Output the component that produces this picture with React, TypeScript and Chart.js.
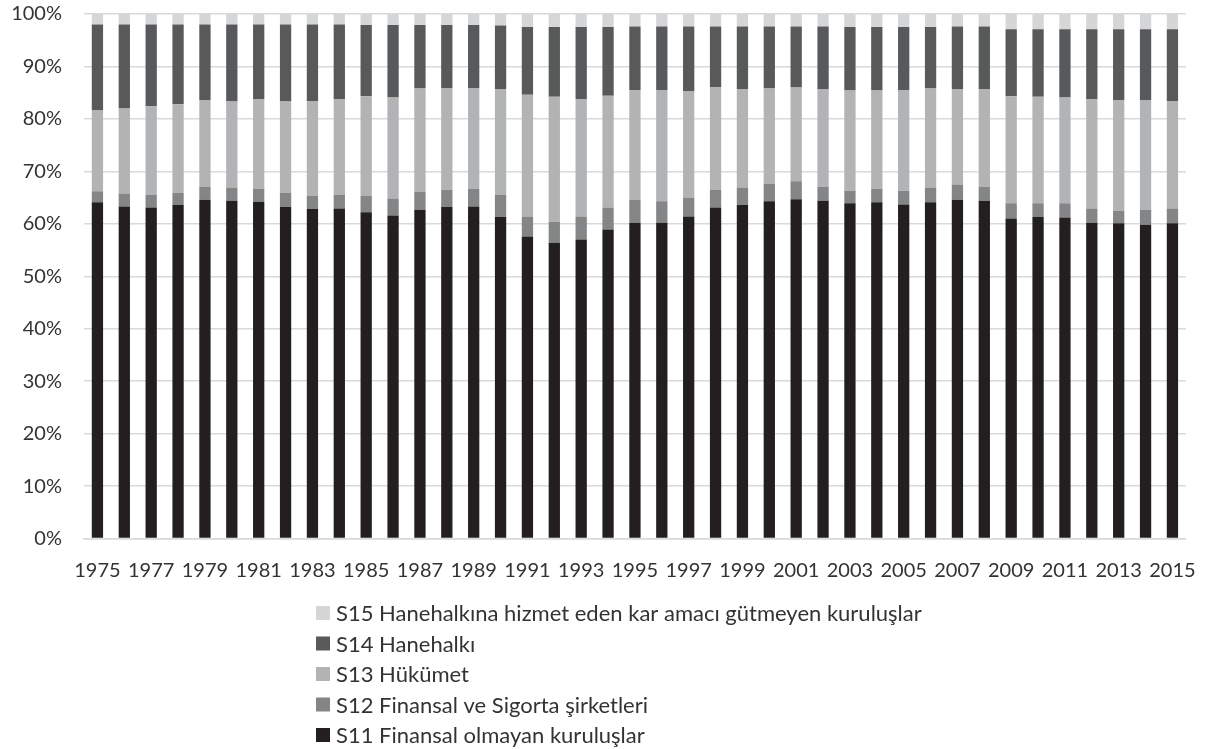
import React, { useEffect, useRef } from 'react';
import { Chart, registerables } from 'chart.js';

Chart.register(...registerables);

const years = [
  '1975', '1976', '1977', '1978', '1979', '1980', '1981', '1982', '1983', '1984',
  '1985', '1986', '1987', '1988', '1989', '1990', '1991', '1992', '1993', '1994',
  '1995', '1996', '1997', '1998', '1999', '2000', '2001', '2002', '2003', '2004',
  '2005', '2006', '2007', '2008', '2009', '2010', '2011', '2012', '2013', '2014', '2015',
];

// S11 Finansal olmayan kuruluşlar
const s11 = [
  64.1, 63.3, 63.1, 63.6, 64.6, 64.4, 64.2, 63.2, 62.8, 62.9,
  62.2, 61.6, 62.7, 63.2, 63.3, 61.3, 57.6, 56.4, 57.0, 58.9,
  60.2, 60.2, 61.4, 63.1, 63.6, 64.3, 64.7, 64.4, 63.9, 64.1,
  63.7, 64.1, 64.6, 64.4, 61.0, 61.3, 61.2, 60.2, 60.1, 59.8, 60.1,
];
// S12 Finansal ve Sigorta şirketleri
const s12 = [
  2.1, 2.5, 2.4, 2.3, 2.4, 2.5, 2.5, 2.7, 2.5, 2.6,
  3.1, 3.2, 3.4, 3.3, 3.4, 4.2, 3.8, 4.0, 4.4, 4.2,
  4.4, 4.1, 3.6, 3.4, 3.3, 3.3, 3.4, 2.6, 2.4, 2.6,
  2.6, 2.8, 2.9, 2.6, 2.9, 2.6, 2.7, 2.7, 2.4, 2.9, 2.8,
];
// S13 Hükümet
const s13 = [
  15.4, 16.2, 16.9, 16.9, 16.6, 16.4, 17.1, 17.4, 18.1, 18.3,
  19.0, 19.3, 19.7, 19.4, 19.2, 20.2, 23.2, 23.8, 22.4, 21.3,
  20.9, 21.2, 20.3, 19.6, 18.8, 18.2, 17.9, 18.7, 19.1, 18.7,
  19.2, 18.9, 18.2, 18.7, 20.4, 20.3, 20.2, 20.9, 21.1, 20.9, 20.5,
];
// S14 Hanehalkı
const s14 = [
  16.4, 16.0, 15.6, 15.2, 14.4, 14.7, 14.2, 14.7, 14.6, 14.2,
  13.6, 13.8, 12.1, 12.0, 12.0, 12.1, 12.9, 13.3, 13.7, 13.1,
  12.1, 12.1, 12.3, 11.5, 11.9, 11.8, 11.6, 11.9, 12.1, 12.1,
  12.0, 11.7, 11.9, 11.9, 12.8, 12.9, 13.0, 13.3, 13.5, 13.5, 13.7,
];
// S15 Hanehalkına hizmet eden kar amacı gütmeyen kuruluşlar
const s15 = [
  2.0, 2.0, 2.0, 2.0, 2.0, 2.0, 2.0, 2.0, 2.0, 2.0,
  2.1, 2.1, 2.1, 2.1, 2.1, 2.2, 2.5, 2.5, 2.5, 2.5,
  2.4, 2.4, 2.4, 2.4, 2.4, 2.4, 2.4, 2.4, 2.5, 2.5,
  2.5, 2.5, 2.4, 2.4, 2.9, 2.9, 2.9, 2.9, 2.9, 2.9, 2.9,
];

const seriesLabels = [
  'S11 Finansal olmayan kuruluşlar',
  'S12 Finansal ve Sigorta şirketleri',
  'S13 Hükümet',
  'S14 Hanehalkı',
  'S15 Hanehalkına hizmet eden kar amacı gütmeyen kuruluşlar',
];
const seriesColors = ['#231f20', '#848587', '#b2b3b5', '#58595b', '#d5d6d8'];

const FONT = 'Lato, "Open Sans", sans-serif';
const TEXT = '#333333';

const legendPlugin = {
  id: 'verticalLegend',
  afterDraw(chart: any) {
    const ctx = chart.ctx;
    const items = chart.data.datasets.slice().reverse();
    ctx.save();
    ctx.font = `22px ${FONT}`;
    ctx.textBaseline = 'middle';
    ctx.textAlign = 'left';
    const x0 = 316;
    const y0 = chart.chartArea.bottom + 74.5;
    const step = 30.5;
    items.forEach((ds: any, i: number) => {
      const y = y0 + i * step;
      ctx.fillStyle = ds.backgroundColor;
      ctx.fillRect(x0, y - 7, 14, 14);
      ctx.fillStyle = TEXT;
      ctx.fillText(ds.label, x0 + 20, y + 1);
    });
    ctx.restore();
  },
};

export default function App() {
  const ref = useRef<HTMLCanvasElement | null>(null);

  useEffect(() => {
    if (!ref.current) return;
    const data = [s11, s12, s13, s14, s15];
    const chart = new Chart(ref.current, {
      type: 'bar',
      data: {
        labels: years,
        datasets: data.map((d, i) => ({
          label: seriesLabels[i],
          data: d,
          backgroundColor: seriesColors[i],
          borderWidth: 0,
          barPercentage: 0.42,
          categoryPercentage: 1,
        })),
      },
      options: {
        animation: false,
        responsive: true,
        maintainAspectRatio: false,
        layout: { padding: { top: 34, right: 30, left: 0, bottom: 170.5 } },
        plugins: {
          legend: { display: false },
          tooltip: { enabled: false },
          title: { display: false },
        },
        scales: {
          x: {
            stacked: true,
            grid: { display: false, drawTicks: false },
            border: { display: true, color: '#d9d9d9', width: 1.5 },
            ticks: {
              autoSkip: false,
              maxRotation: 0,
              minRotation: 0,
              padding: 20,
              color: TEXT,
              font: { family: FONT, size: 20 },
              callback: (v: any, i: number) => (i % 2 === 0 ? years[i] : ''),
            },
            afterFit: (s: any) => {
              s.height = 40;
            },
          },
          y: {
            stacked: true,
            min: 0,
            max: 100,
            grid: { color: '#d9d9d9', lineWidth: 1.5, drawTicks: false },
            border: { display: false },
            ticks: {
              stepSize: 10,
              padding: 22,
              color: TEXT,
              font: { family: FONT, size: 20 },
              callback: (v: any) => `${v}%`,
            },
            afterFit: (s: any) => {
              s.width = 84;
            },
          },
        },
      },
      plugins: [legendPlugin],
    });
    return () => chart.destroy();
  }, []);

  return (
    <div style={{ position: 'absolute', left: 0, top: -20, width: 1216, height: 769 }}>
      <canvas ref={ref} />
    </div>
  );
}
